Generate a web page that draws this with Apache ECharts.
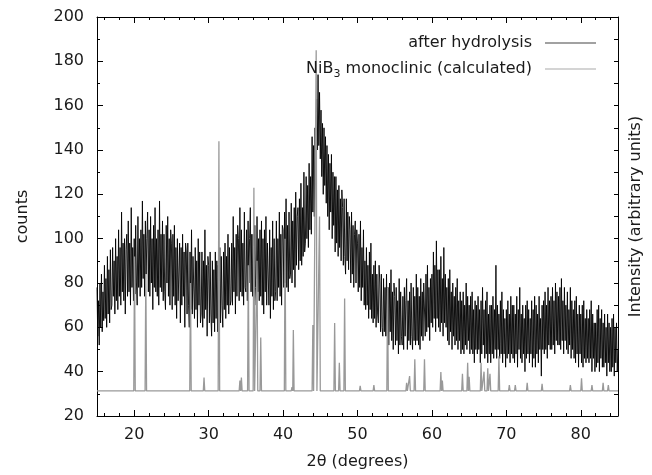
<!DOCTYPE html>
<html>
<head>
<meta charset="utf-8">
<script src="https://cdn.jsdelivr.net/npm/echarts@6/dist/echarts.min.js"></script>
<style>
  html, body { margin: 0; padding: 0; background: #fff; }
  #chart { width: 652px; height: 475px; }
</style>
</head>
<body>
<div id="chart"></div>
<script>
// ---- data ----
// measured pattern "after hydrolysis": counts sampled every 0.1 degree from 15 to 85
const thetaStart = 15;
const thetaStep = 0.1;
const counts = [
  78, 56, 72, 52, 80, 60, 84, 58, 76, 63,       // 15
  88, 64, 82, 60, 92, 66, 86, 62, 95, 68,       // 16
  70, 96, 74, 90, 66, 100, 72, 92, 68, 104,     // 17
  74, 96, 70, 112, 76, 98, 72, 100, 66, 95,     // 18
  102, 74, 108, 76, 98, 70, 114, 78, 96, 72,    // 19
  100, 75, 106, 80, 70, 110, 78, 100, 74, 104,  // 20
  78, 117, 82, 102, 74, 108, 84, 100, 112, 76,  // 21
  104, 74, 110, 80, 100, 68, 106, 78, 114, 76,  // 22
  100, 74, 104, 70, 117, 78, 102, 76, 108, 72,  // 23
  102, 76, 68, 106, 80, 110, 74, 100, 70, 104,  // 24
  98, 68, 102, 74, 106, 70, 96, 64, 100, 72,    // 25
  72, 98, 62, 96, 70, 102, 74, 94, 60, 98,      // 26
  94, 66, 98, 70, 60, 94, 68, 104, 66, 92,      // 27
  92, 64, 96, 68, 90, 60, 100, 70, 94, 62,      // 28
  66, 94, 60, 90, 64, 104, 68, 88, 56, 92,      // 29
  88, 62, 94, 66, 56, 90, 62, 86, 58, 94,       // 30
  64, 90, 58, 88, 66, 96, 62, 92, 70, 60,       // 31
  94, 68, 98, 64, 92, 70, 102, 66, 96, 70,      // 32
  72, 98, 70, 110, 76, 96, 66, 102, 74, 106,    // 33
  100, 72, 114, 76, 104, 74, 98, 70, 112, 78,   // 34
  76, 104, 72, 108, 80, 100, 114, 76, 102, 74,  // 35
  102, 72, 106, 78, 70, 110, 76, 100, 72, 104,  // 36
  74, 108, 70, 100, 66, 104, 76, 110, 70, 98,   // 37
  98, 70, 104, 64, 96, 74, 108, 68, 100, 72,    // 38
  76, 108, 72, 100, 78, 112, 74, 102, 70, 106,  // 39
  104, 78, 112, 80, 118, 78, 106, 76, 112, 82,  // 40
  84, 116, 80, 108, 86, 114, 78, 121, 88, 110,  // 41
  114, 86, 118, 90, 125, 88, 114, 92, 130, 94,  // 42
  98, 128, 100, 124, 96, 134, 104, 128, 102, 146,     // 43
  112, 142, 110, 150, 128, 163, 140, 174, 142, 166,   // 44
  136, 158, 128, 152, 120, 150, 124, 146, 116, 142,   // 45
  110, 138, 104, 134, 112, 138, 100, 130, 106, 128,   // 46
  94, 128, 98, 122, 92, 124, 96, 118, 90, 122,        // 47
  114, 88, 118, 92, 84, 118, 90, 112, 86, 110,  // 48
  104, 80, 112, 84, 106, 78, 102, 108, 80, 104, // 49
  98, 76, 102, 78, 108, 72, 96, 78, 104, 70,    // 50
  90, 68, 96, 70, 88, 64, 94, 68, 98, 64,       // 51
  84, 62, 88, 64, 90, 60, 84, 66, 62, 88,       // 52
  80, 58, 84, 60, 56, 82, 58, 78, 56, 84,       // 53
  56, 78, 52, 80, 58, 86, 54, 76, 50, 80,       // 54
  74, 52, 78, 54, 72, 48, 82, 52, 76, 56,       // 55
  52, 74, 50, 78, 56, 72, 82, 50, 72, 54,       // 56
  76, 52, 80, 56, 50, 78, 54, 74, 52, 84,       // 57
  54, 78, 52, 74, 50, 82, 56, 76, 54, 80,       // 58
  80, 56, 84, 58, 88, 60, 78, 54, 82, 62,       // 59
  84, 60, 94, 64, 88, 58, 99, 64, 86, 60,       // 60
  86, 58, 92, 62, 82, 56, 96, 62, 84, 60,       // 61
  78, 54, 82, 52, 86, 58, 76, 50, 80, 56,       // 62
  74, 52, 78, 54, 82, 50, 72, 54, 76, 48,       // 63
  72, 50, 76, 48, 70, 52, 80, 50, 74, 54,       // 64
  70, 48, 74, 50, 76, 48, 68, 44, 72, 50,       // 65
  70, 48, 74, 50, 68, 44, 72, 48, 78, 52,       // 66
  68, 46, 72, 48, 76, 44, 66, 48, 70, 44,       // 67
  70, 48, 74, 46, 68, 50, 88, 46, 70, 50,       // 68
  66, 46, 72, 48, 76, 44, 68, 48, 64, 42,       // 69
  68, 46, 72, 48, 66, 44, 74, 48, 70, 46,       // 70
  70, 44, 66, 48, 74, 42, 68, 50, 78, 46,       // 71
  66, 44, 70, 48, 64, 40, 70, 46, 72, 48,       // 72
  68, 44, 64, 48, 72, 42, 68, 46, 74, 42,       // 73
  70, 48, 66, 44, 74, 50, 64, 38, 70, 50,       // 74
  72, 48, 76, 50, 70, 46, 78, 52, 72, 50,       // 75
  74, 50, 78, 52, 72, 48, 80, 54, 76, 52,       // 76
  74, 52, 78, 50, 82, 54, 72, 48, 78, 54,       // 77
  70, 50, 76, 48, 68, 52, 78, 46, 72, 50,       // 78
  68, 46, 72, 44, 74, 48, 66, 42, 70, 48,       // 79
  66, 44, 70, 42, 72, 46, 64, 44, 68, 46,       // 80
  64, 44, 68, 46, 72, 40, 66, 46, 62, 40,       // 81
  62, 42, 68, 44, 70, 40, 64, 46, 68, 42,       // 82
  62, 42, 66, 44, 60, 38, 66, 44, 62, 40,       // 83
  60, 40, 64, 42, 66, 38, 60, 44, 62, 40,       // 84
  50                                            // 85
];

// calculated NiB3 monoclinic pattern: reflection positions (2theta) and peak tops
const calcPositions = [
  20.04, 21.56, 27.56, 29.38, 31.38, 34.2, 34.4, 35.33, 36.08, 36.5, 37.0,
  40.27, 41.2, 41.38, 44.0, 44.45, 44.9, 46.93, 47.56, 48.27,
  50.36, 52.2, 54.04, 56.6, 57.0, 57.7, 59.0, 61.2, 61.4,
  64.1, 64.8, 65.0, 66.6, 67.0, 67.5, 67.8, 69.0,
  70.4, 71.2, 72.8, 74.8, 78.6, 80.1, 81.5, 83.0, 83.7
];
const calcHeights = [
  92, 84, 80, 37.4, 144, 36, 37.4, 88, 123, 90, 55.4,
  100, 33, 58.8, 61, 185, 110, 62, 44, 73,
  33.6, 34, 78, 35, 38, 45.6, 45.6, 39.8, 36,
  39, 44, 37.7, 44, 40, 41.5, 39, 47,
  34, 34, 35, 34.5, 34, 37, 34, 35, 34
];
const calcBaseline = 31.3;

const xMajorTicks = [20, 30, 40, 50, 60, 70, 80];
const xMinorTicks = [16, 18, 22, 24, 26, 28, 32, 34, 36, 38, 42, 44, 46, 48,
  52, 54, 56, 58, 62, 64, 66, 68, 72, 74, 76, 78, 82, 84];

const nameMeasured = 'after hydrolysis';
const nameCalc = 'NiB3 monoclinic (calculated)';

// ---- build series data ----
const measuredData = counts.map((v, i) => [+(thetaStart + i * thetaStep).toFixed(2), v]);

const peakHalfWidth = 0.1;
const calcData = [[15, calcBaseline]];
calcPositions.forEach((p, i) => {
  calcData.push([p - peakHalfWidth, calcBaseline]);
  calcData.push([p, calcHeights[i]]);
  calcData.push([p + peakHalfWidth, calcBaseline]);
});
calcData.push([85, calcBaseline]);

const FONT = 'DejaVu Sans';
const TXT = '#1a1a1a';

const majorX = (pos, showLabel) => ({
  type: 'value', position: pos, min: 15, max: 85,
  axisLine: { show: true, onZero: false, lineStyle: { color: '#000', width: 1 } },
  axisTick: { show: true, inside: true, length: 6, customValues: xMajorTicks, lineStyle: { color: '#000' } },
  axisLabel: { show: showLabel, customValues: xMajorTicks, margin: 11, fontFamily: FONT, fontSize: 16, color: TXT },
  splitLine: { show: false }
});
const minorX = (pos) => ({
  type: 'value', position: pos, min: 15, max: 85,
  axisLine: { show: false, onZero: false },
  axisTick: { show: true, inside: true, length: 3, customValues: xMinorTicks, lineStyle: { color: '#000' } },
  axisLabel: { show: false },
  splitLine: { show: false }
});

const chart = echarts.init(document.getElementById('chart'), null, { renderer: 'canvas' });
const xBottom = majorX('bottom', true);
xBottom.name = '2θ (degrees)';
xBottom.nameLocation = 'middle';
xBottom.nameGap = 38;
xBottom.nameTextStyle = { fontFamily: FONT, fontSize: 16, color: TXT };

chart.setOption({
  animation: false,
  backgroundColor: '#fff',
  grid: { left: 97, right: 29, top: 17, bottom: 58, containLabel: false },
  legend: {
    orient: 'vertical', align: 'right', right: 51, top: 30,
    icon: 'rect', itemWidth: 51, itemHeight: 1, itemGap: 10,
    data: [
      { name: nameMeasured, itemStyle: { color: '#444' } },
      { name: nameCalc, itemStyle: { color: '#aaa' } }
    ],
    formatter: (name) => name === nameCalc
      ? '{n|NiB}{s|3}{n| monoclinic (calculated)}'
      : '{n|' + name + '}',
    textStyle: {
      fontFamily: FONT, fontSize: 16, color: TXT, padding: [0, 8, 0, 0],
      rich: {
        n: { fontFamily: FONT, fontSize: 16, color: TXT, lineHeight: 22 },
        s: { fontFamily: FONT, fontSize: 11, color: TXT, lineHeight: 11, verticalAlign: 'bottom' }
      }
    }
  },
  xAxis: [xBottom, minorX('bottom'), majorX('top', false), minorX('top')],
  yAxis: [
    {
      type: 'value', position: 'left', min: 20, max: 200, interval: 20,
      name: 'counts', nameLocation: 'middle', nameGap: 66, nameRotate: 90,
      nameTextStyle: { fontFamily: FONT, fontSize: 16, color: TXT },
      axisLine: { show: true, onZero: false, lineStyle: { color: '#000', width: 1 } },
      axisTick: { show: true, inside: true, length: 6, lineStyle: { color: '#000' } },
      minorTick: { show: true, splitNumber: 2, length: 3, lineStyle: { color: '#000' } },
      axisLabel: { margin: 13, fontFamily: FONT, fontSize: 16, color: TXT },
      splitLine: { show: false }, minorSplitLine: { show: false }
    },
    {
      type: 'value', position: 'right', min: 20, max: 200, interval: 10,
      name: 'Intensity (arbitrary units)', nameLocation: 'middle', nameGap: 10, nameRotate: 90,
      nameTextStyle: { fontFamily: FONT, fontSize: 16, color: TXT },
      axisLine: { show: true, onZero: false, lineStyle: { color: '#000', width: 1 } },
      axisTick: { show: true, inside: true, length: 4, lineStyle: { color: '#000' } },
      axisLabel: { show: false },
      splitLine: { show: false }
    }
  ],
  series: [
    {
      name: nameMeasured, type: 'line', xAxisIndex: 0, yAxisIndex: 0,
      data: measuredData, symbol: 'none', showSymbol: false, color: '#000',
      lineStyle: { color: '#000', width: 0.9 }, z: 2
    },
    {
      name: nameCalc, type: 'line', xAxisIndex: 0, yAxisIndex: 0,
      data: calcData, symbol: 'none', showSymbol: false, color: '#999',
      lineStyle: { color: '#999', width: 1.3 }, z: 3
    }
  ]
});
</script>
</body>
</html>
